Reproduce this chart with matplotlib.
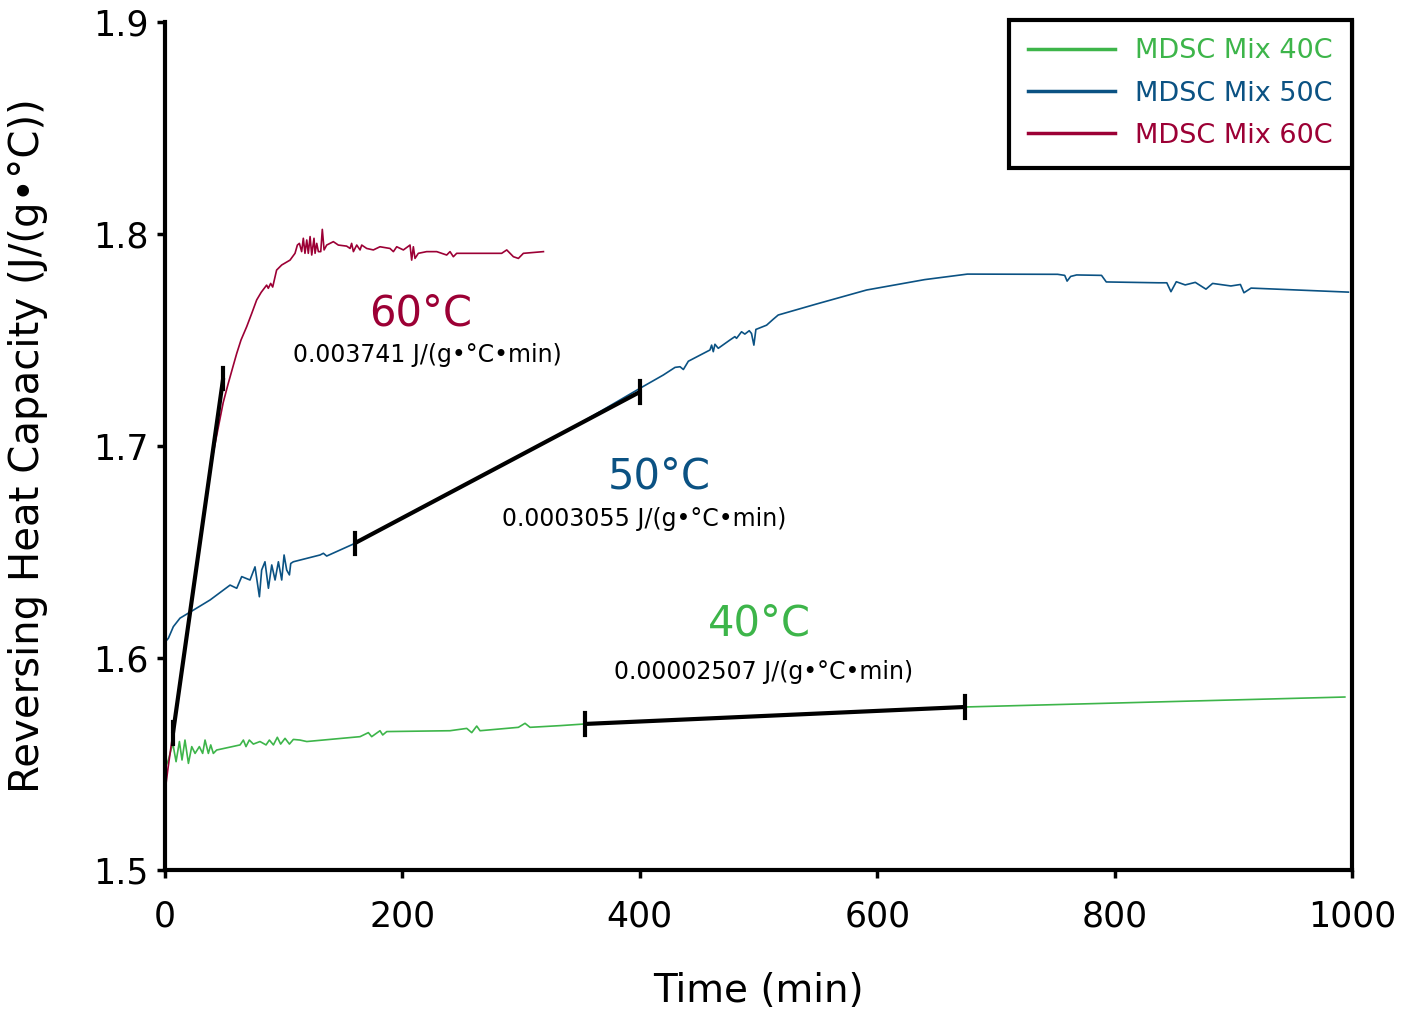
import matplotlib
matplotlib.use("Agg")
import matplotlib.pyplot as plt

# colours of the three runs
c40 = '#3db54a'
c50 = '#0b5283'
c60 = '#9c0035'

# MDSC Mix 60C
t60 = [0, 2.5, 6, 10, 20, 30, 40, 49, 53, 57,
       60.4, 64, 68.8, 73, 77.2, 81, 85.6, 87, 89, 90.7, 94, 98.3, 105.3,
       109.5, 111.5, 113.2, 115.1, 116.5, 117.9, 119.4, 120.7, 122.2, 123.6,
       125.5, 126.4, 127.8, 129.2, 131.2, 132.5, 134, 136.2, 141.8, 146,
       153, 155.9, 157.2, 158.7, 161.5, 164.3, 165.7, 169.9, 175.5, 181.1,
       189.5, 192.4, 195.2, 200.8, 206.4, 207.8, 209.2, 210.6, 213.4, 220.4,
       228.9, 237.3, 240.1, 242.9, 245.7, 265.4, 283.6, 287.9, 293.5, 297.7,
       301.9, 318.8]
cp60 = [1.537, 1.548, 1.562, 1.577, 1.617, 1.657, 1.695, 1.7205, 1.729, 1.737,
        1.7437, 1.750, 1.7563, 1.7625, 1.7689, 1.7725, 1.7759, 1.7744, 1.7767, 1.7750, 1.7830, 1.7854, 1.7877,
        1.7909, 1.7948, 1.7956, 1.7917, 1.798, 1.7909, 1.7972, 1.7909, 1.7988, 1.7901,
        1.798, 1.7909, 1.7956, 1.7917, 1.7917, 1.8022, 1.7925, 1.7948, 1.7964, 1.7948,
        1.7943, 1.7932, 1.7956, 1.7917, 1.7948, 1.7925, 1.7948, 1.7932, 1.7925, 1.794,
        1.7932, 1.7917, 1.794, 1.7925, 1.7948, 1.7877, 1.794, 1.7885, 1.7909, 1.7917,
        1.7917, 1.7901, 1.7917, 1.7893, 1.7909, 1.7909, 1.7909, 1.7925, 1.7893, 1.7885,
        1.7909, 1.7917]

# MDSC Mix 50C
t50 = [0, 2.8, 7, 12.6, 23.9, 38, 54.8, 60.4, 64.6, 71.6,
       75.8, 79.5, 81.4, 84.2, 87.1, 89.9, 92.7, 95.5, 98.3, 100.3,
       102.5, 104.8, 105.9, 108.1, 130.6, 133.4, 136.2, 160, 220, 280,
       340, 401.6, 419.8, 429.7, 433.9, 436.7, 440.9, 459.1, 460.5, 461.9,
       463.3, 466.1, 475.9, 480.1, 481.5, 485.7, 488.5, 492.2, 494.1, 496.1,
       497.8, 506.8, 512.4, 516.6, 548.9, 591.1, 640, 676, 752, 758,
       760, 763, 768, 789, 793, 837, 844, 847.5, 852, 859.5,
       868, 877, 882.6, 898, 906, 909, 915, 997]
cp50 = [1.6075, 1.6093, 1.6148, 1.6188, 1.6226, 1.6274, 1.6344, 1.6329, 1.6384, 1.6368,
        1.643, 1.6289, 1.6415, 1.6454, 1.6329, 1.6439, 1.6368, 1.6454, 1.6368, 1.6486,
        1.6415, 1.6392, 1.6446, 1.6454, 1.6486, 1.6494, 1.6481, 1.6541, 1.6718, 1.6897,
        1.7076, 1.7277, 1.7335, 1.7371, 1.7374, 1.7361, 1.74, 1.7453, 1.7476, 1.7445,
        1.748, 1.7461, 1.75, 1.7516, 1.7508, 1.7539, 1.7528, 1.7544, 1.7531, 1.7476,
        1.755, 1.757, 1.7598, 1.7618, 1.767, 1.7736, 1.7785, 1.7811, 1.781, 1.7805,
        1.7778, 1.780, 1.7807, 1.7805, 1.7774, 1.777, 1.777, 1.7728, 1.7775, 1.776,
        1.7772, 1.774, 1.7767, 1.7755, 1.7762, 1.7723, 1.7745, 1.7726]

# MDSC Mix 40C
t40 = [0, 2.8, 6.5, 9.3, 12.1, 14.3, 16.8, 19.7, 22.5, 25.3,
       28.9, 31.7, 33.7, 36.5, 38.5, 40.7, 43.5, 63.2, 66, 68.2,
       71, 74.4, 80, 85.1, 87.9, 91.3, 94.6, 97.4, 101.1, 104.8,
       108.1, 113.7, 119.4, 164.3, 171.3, 174.1, 181.1, 183.4, 186.8, 240.1,
       254.2, 258.4, 262.6, 265.4, 297.7, 303.3, 307.5, 332.8, 354, 674,
       994]
cp40 = [1.548, 1.5519, 1.5598, 1.5511, 1.5606, 1.5519, 1.5613, 1.5503, 1.5582, 1.555,
        1.5582, 1.555, 1.5613, 1.555, 1.559, 1.555, 1.5566, 1.559, 1.5613, 1.5582,
        1.5613, 1.5594, 1.5606, 1.559, 1.5613, 1.559, 1.5626, 1.5594, 1.5621, 1.5594,
        1.5616, 1.5613, 1.5606, 1.5629, 1.5648, 1.5629, 1.5657, 1.5637, 1.5653, 1.5657,
        1.5668, 1.5648, 1.5679, 1.5657, 1.5673, 1.5692, 1.5673, 1.5681, 1.5689, 1.5769,
        1.5816]

# linear fits (start / end)
fit60_t = [6.7, 49]
fit60_cp = [1.5646, 1.7320]
fit50_t = [160, 400]
fit50_cp = [1.6542, 1.7255]
fit40_t = [354, 674]
fit40_cp = [1.5689, 1.5769]

slopes = ['0.003741', '0.0003055', '0.00002507']

fig = plt.figure(figsize=(14.01, 10.16), dpi=100)
ax = fig.add_axes([0.1178, 0.1437, 0.8472, 0.8346])

ax.plot(t40, cp40, color=c40, lw=1.2, label='MDSC Mix 40C')
ax.plot(t50, cp50, color=c50, lw=1.2, label='MDSC Mix 50C')
ax.plot(t60, cp60, color=c60, lw=1.2, label='MDSC Mix 60C')

for ft, fc in [(fit60_t, fit60_cp), (fit50_t, fit50_cp), (fit40_t, fit40_cp)]:
    ax.plot(ft, fc, color='black', lw=3, solid_capstyle='butt', zorder=5)
    for x, y in zip(ft, fc):
        ax.plot([x, x], [y - 0.005, y + 0.005], color='black', lw=3, zorder=5)

# annotations
ax.text(215.7, 1.7627, '60°C', color=c60, fontsize=30, ha='center', va='center')
ax.text(220.7, 1.7429, slopes[0] + ' J/(g•°C•min)', fontsize=17, ha='center', va='center')
ax.text(416, 1.6854, '50°C', color=c50, fontsize=30, ha='center', va='center')
ax.text(403.5, 1.6656, slopes[1] + ' J/(g•°C•min)', fontsize=17, ha='center', va='center')
ax.text(500.4, 1.6165, '40°C', color=c40, fontsize=30, ha='center', va='center')
ax.text(504.6, 1.5934, slopes[2] + ' J/(g•°C•min)', fontsize=17, ha='center', va='center')

ax.set_xlim(0, 1000)
ax.set_ylim(1.5, 1.9)
ax.set_xticks([0, 200, 400, 600, 800, 1000])
ax.set_yticks([1.5, 1.6, 1.7, 1.8, 1.9])
ax.set_yticklabels(['1.5', '1.6', '1.7', '1.8', '1.9'])
ax.tick_params(axis='both', direction='out', length=6, width=2.5, labelsize=25)
ax.tick_params(axis='x', pad=15)
ax.tick_params(axis='y', pad=6)
for s in ['left', 'bottom', 'right']:
    ax.spines[s].set_linewidth(3)
ax.spines['top'].set_visible(False)

ax.set_xlabel('Time (min)', fontsize=28, labelpad=28)
ax.set_ylabel('Reversing Heat Capacity (J/(g•°C))', fontsize=29, labelpad=32)

leg = ax.legend(loc='upper right', bbox_to_anchor=(1.0, 1.003), borderaxespad=0,
                fontsize=19.5, handlelength=3.2, handletextpad=0.75,
                labelspacing=0.6, labelcolor='linecolor', fancybox=False,
                framealpha=1, borderpad=0.7)
leg.get_frame().set_edgecolor('black')
leg.get_frame().set_linewidth(3)
for ln in leg.get_lines():
    ln.set_linewidth(2.5)

fig.savefig('out.png', dpi=100)
